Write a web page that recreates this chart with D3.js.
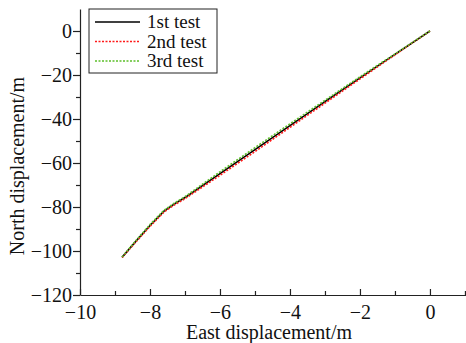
<!DOCTYPE html>
<html>
<head>
<meta charset="utf-8">
<script src="https://cdn.jsdelivr.net/npm/d3@7"></script>
<style>
  body { margin: 0; background: #fff; }
  svg text { font-family: "Liberation Serif", "Times New Roman", Times, "DejaVu Serif", serif !important; }
</style>
</head>
<body>
<svg id="chart"></svg>
<script>
// east / north displacement
const eastVals = [0, -1, -2, -3, -4, -5, -6, -7, -7.3, -7.6, -8, -8.4, -8.8];
const test1 = [0, -10.6, -21.3, -32.1, -43.0, -53.9, -64.8, -75.7, -78.6, -81.9, -88.4, -95.5, -102.9];
const test2 = [0, -10.8, -21.8, -32.8, -43.8, -54.8, -65.6, -76.2, -79.0, -82.3, -88.8, -95.8, -103.0];
const test3 = [0, -10.4, -20.8, -31.5, -42.2, -53.0, -64.0, -75.3, -78.2, -81.5, -88.0, -95.2, -102.8];

const seriesNames = ["1st test", "2nd test", "3rd test"];
const seriesColors = ["#000000", "#ff1a1a", "#5cbf2a"];
const seriesDash = [null, "2,1.5", "2,1.5"];

const xTicks = [-10, -8, -6, -4, -2, 0];
const yTicks = [0, -20, -40, -60, -80, -100, -120];

const svgWidth = 466, svgHeight = 343;
const margin = {top: 9, right: 0, bottom: 48, left: 80},
    width = svgWidth - margin.left - margin.right,
    height = svgHeight - margin.top - margin.bottom;

const chart = d3.select('#chart')
    .attr("width", svgWidth)
    .attr("height", svgHeight)
    .attr("font-family", "Liberation Serif, serif");

const inner = chart.append("g")
    .attr("transform", "translate(" + margin.left + "," + margin.top + ")");

var xScale = d3.scaleLinear().domain([-10, 1.03]).range([0, width]);
var yScale = d3.scaleLinear().domain([-120, 10]).range([height, 0]);

// minor ticks first
inner.append("g")
    .attr("transform", "translate(0," + height + ")")
    .call(d3.axisBottom(xScale).tickValues(d3.range(-9, 1.5, 2)).tickSize(-4).tickFormat(""))
    .call(g => g.select(".domain").remove());
inner.append("g")
    .call(d3.axisLeft(yScale).tickValues(d3.range(-110, 10, 20)).tickSize(4).tickFormat(""))
    .call(g => g.select(".domain").remove());

var xAxis = inner.append("g")
    .attr("transform", "translate(0," + height + ")")
    .call(d3.axisBottom(xScale).tickValues(xTicks).tickSize(-6).tickPadding(10).tickSizeOuter(0));
var yAxis = inner.append("g")
    .call(d3.axisLeft(yScale).tickValues(yTicks).tickSize(7).tickPadding(1).tickSizeOuter(0));

inner.selectAll("g").attr("font-family", null);
inner.selectAll(".tick text")
    .style("font-size", "20px")
    .style("fill", "#111");
inner.selectAll(".domain, .tick line")
    .attr("stroke", "#222")
    .attr("stroke-width", 1.2);

chart.append("text")
    .attr("x", 269)
    .attr("y", 339)
    .style("text-anchor", "middle")
    .style("font-size", "20px")
    .style("fill", "#111")
    .text("East displacement/m");

chart.append("text")
    .attr("transform", "translate(24,166) rotate(-90)")
    .style("text-anchor", "middle")
    .style("font-size", "20px")
    .style("fill", "#111")
    .text("North displacement/m");

var valueline = d3.line()
    .x(function(d){ return xScale(d.east); })
    .y(function(d){ return yScale(d.north); });

[test1, test2, test3].forEach(function(vals, i){
    inner.append("path")
        .datum(vals.map(function(v, j){ return {east: eastVals[j], north: v}; }))
        .attr("d", valueline)
        .attr("fill", "none")
        .attr("stroke", seriesColors[i])
        .attr("stroke-width", 1.6)
        .attr("stroke-dasharray", seriesDash[i]);
});

// legend
var legend = chart.append("g").attr("transform", "translate(89,9)");
legend.append("rect")
    .attr("width", 128)
    .attr("height", 64)
    .attr("fill", "#fff")
    .attr("stroke", "#222")
    .attr("stroke-width", 1);

seriesNames.forEach(function(name, i){
    var yRow = 13 + i * 19.5;
    legend.append("line")
        .attr("x1", 6).attr("x2", 51)
        .attr("y1", yRow).attr("y2", yRow)
        .attr("stroke", seriesColors[i])
        .attr("stroke-width", 1.3)
        .attr("stroke-dasharray", seriesDash[i]);
    legend.append("text")
        .attr("x", 58)
        .attr("y", yRow + 6)
        .style("font-size", "19px")
        .style("fill", "#111")
        .text(name);
});
</script>
</body>
</html>
